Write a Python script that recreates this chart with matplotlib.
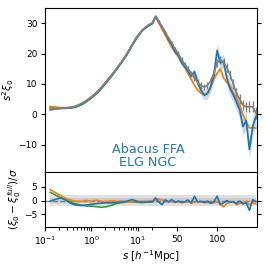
import numpy as np
import matplotlib
matplotlib.use('Agg')
import matplotlib.pyplot as plt

# separation bins: log-spaced at small s, 4 Mpc/h steps above ~20
s_log = [0.13, 0.17, 0.22, 0.28, 0.36, 0.46, 0.6, 0.77, 1.0, 1.3, 1.65, 2.1,
         2.75, 3.5, 4.5, 5.8, 7.5, 9.6, 12.4, 16, 20.5]
s_lin = [24, 28, 32, 36, 40, 44, 48, 52, 56, 60, 64, 68, 72, 76, 80, 84, 88,
         92, 96, 100, 104, 108, 112, 116, 120, 124, 128, 132, 136, 140, 144, 148]
s = s_log + s_lin

# s^2 xi_0
blue = [1.5, 1.8, 2.0, 2.1, 2.2, 2.6, 3.3, 4.3, 5.6, 7.1, 8.8, 10.7, 12.9, 15.0,
        17.3, 19.8, 22.8, 25.5, 27.7, 29.0, 30.0,
        32.3, 30.5, 28.5, 26.8, 24.5, 23.0, 20.5, 19.5, 17.0, 15.8, 14.2, 12.5,
        14.0, 10.5, 8.0, 6.3, 6.8, 9.0, 13.0, 21.0, 17.0, 17.5, 12.0, 8.5, 6.5,
        4.0, 1.5, -4.0, -2.0, -11.5, -4.0, -0.8]
blue_err = [0.1, 0.1, 0.1, 0.1, 0.1, 0.1, 0.1, 0.1, 0.1, 0.1, 0.1, 0.1, 0.1, 0.1,
            0.15, 0.15, 0.2, 0.2, 0.25, 0.3, 0.4,
            0.5, 0.6, 0.7, 0.8, 0.9, 1.0, 1.0, 1.1, 1.1, 1.2, 1.3, 1.3, 1.4, 1.5,
            1.5, 1.6, 1.7, 1.8, 1.9, 2.0, 2.1, 2.2, 2.3, 2.4, 2.5, 2.6, 2.7, 2.8,
            2.9, 3.0, 3.1, 3.2]
orange = [2.6, 2.4, 2.2, 2.2, 2.3, 2.7, 3.5, 4.5, 5.8, 7.3, 9.0, 10.9, 13.1, 15.2,
          17.4, 19.9, 22.8, 25.5, 27.6, 29.0, 30.0,
          32.0, 30.0, 28.0, 26.0, 24.0, 22.0, 20.5, 19.0, 17.2, 15.5, 13.5, 11.5,
          9.5, 8.0, 7.0, 6.5, 7.0, 9.0, 11.5, 13.5, 15.0, 12.0, 10.5, 9.5, 7.0,
          5.5, 3.0, 0.0, -2.5, -4.5, -4.3, -4.5]
green = [2.3, 2.1, 2.0, 2.0, 2.1, 2.4, 3.1, 4.1, 5.4, 6.9, 8.6, 10.5, 12.7, 14.9,
         17.2, 19.7, 22.7, 25.4, 27.6, 29.0, 30.0]
gray = [1.8, 1.9, 2.0, 2.1, 2.3, 2.7, 3.4, 4.4, 5.7, 7.2, 8.9, 10.8, 13.0, 15.1,
        17.4, 19.9, 22.9, 25.6, 27.8, 29.2, 30.2,
        32.0, 30.5, 28.8, 27.0, 25.0, 23.5, 21.5, 20.0, 18.0, 16.5, 15.0, 13.5,
        12.0, 10.5, 9.5, 9.0, 9.5, 11.0, 13.5, 17.0, 18.0, 17.0, 15.5, 13.0, 10.0,
        7.0, 5.0, 3.0, 2.5, 2.5, 2.5, 0.5]
gray_err = [0.05] * 21 + [0.3, 0.4, 0.5, 0.5, 0.6, 0.6, 0.7, 0.7, 0.8, 0.8, 0.9,
                          0.9, 1.0, 1.0, 1.0, 1.1, 1.1, 1.2, 1.2, 1.3, 1.3, 1.4,
                          1.4, 1.5, 1.5, 1.6, 1.6, 1.7, 1.7, 1.8, 1.8, 1.9]

# (xi_0 - xi_0^full) / sigma
blue_d = [-0.2, 0.5, 1.0, 0.2, -1.0, -1.6, -1.8, -1.6, -1.3, -1.1, -0.9, -0.8,
          -0.8, -0.7, -0.5, -0.2, 0.4, -0.3, -0.6, -0.5, -0.4,
          1.0, -0.6, -1.4, 0.3, -0.5, 0.4, -0.6, -0.2, -0.5, -0.4, 0.2, -0.8,
          1.6, -0.4, -0.3, -0.6, -0.2, -0.9, -0.4, 1.6, -1.4, -0.8, 0.0, -0.6,
          -0.4, -1.0, -0.2, -1.2, -0.8, -3.5, 0.3, -0.3]
orange_d = [4.0, 2.8, 1.8, 0.8, 0.2, -0.2, -0.3, 0.1, -0.2, 0.2, -0.3, -0.4, 0.0,
            -0.3, -0.2, -0.5, -0.3, -0.4, -0.3, -0.2, 0.0,
            0.3, 0.6, 0.2, 0.0, -0.4, -0.2, -0.6, -0.3, -0.8, -0.6, -0.4, -0.9,
            -0.6, -0.5, -0.3, -0.8, -0.6, -1.0, -0.8, -0.5, -1.2, -2.3, -1.0,
            -0.6, -0.5, -1.5, -1.0, -0.6, -0.4, -1.6, -0.8, -1.2]
green_d = [3.0, 2.0, 1.0, 0.3, -0.6, -1.2, -1.6, -1.9, -2.0, -2.2, -2.4, -2.2,
           -1.6, -1.0, -0.7, -0.5, -0.4, -0.6, -0.7, -0.5, -0.4]

# log below 25 Mpc/h, linear above (smooth join)
T = 25.0
LT = np.log10(T)
K = T * np.log(10)


def fwd(x):
    x = np.maximum(np.asarray(x, dtype=float), 1e-12)
    return np.where(x < T, np.log10(x), LT + (x - T) / K)


def inv(y):
    y = np.asarray(y, dtype=float)
    with np.errstate(over='ignore'):
        return np.where(y < LT, 10.0 ** np.minimum(y, LT), T + (y - LT) * K)


plt.rcParams['font.size'] = 6.5
plt.rcParams['xtick.major.size'] = 3
plt.rcParams['ytick.major.size'] = 3
plt.rcParams['xtick.minor.size'] = 1.8
plt.rcParams['xtick.major.pad'] = 2.5
plt.rcParams['ytick.major.pad'] = 2.5
fig = plt.figure(figsize=(2.66, 2.66), dpi=100)
gs = fig.add_gridspec(2, 1, height_ratios=[3, 1], hspace=0,
                      left=0.169, right=0.968, top=0.970, bottom=0.147)
ax1 = fig.add_subplot(gs[0])
ax2 = fig.add_subplot(gs[1], sharex=ax1)

blue_arr = np.array(blue)
err_arr = np.array(blue_err)
ax1.errorbar(s, gray, yerr=gray_err, color='gray', lw=1.2, elinewidth=1.0)
ax1.plot(s_log, green, color='tab:green', lw=1.3)
ax1.plot(s, orange, color='tab:orange', lw=1.3)
ax1.fill_between(s, blue_arr - err_arr, blue_arr + err_arr, color='tab:blue',
                 alpha=0.25, lw=0)
ax1.plot(s, blue, color='tab:blue', lw=1.3)
ax1.set_ylim(-19, 35)
ax1.set_yticks([-10, 0, 10, 20, 30])
ax1.set_ylabel(r'$s^2\xi_0$', fontsize=7.5, labelpad=2)
ax1.text(0.485, 0.018, 'Abacus FFA\nELG NGC', transform=ax1.transAxes,
         color='tab:blue', fontsize=9.2, ha='center', va='bottom',
         multialignment='center', linespacing=1.0)
ax1.tick_params(right=True, labelbottom=False)

ax2.fill_between(s, -2, 2, color='lightgray', alpha=0.7, lw=0)
ax2.fill_between(s, -1, 1, color='darkgray', alpha=0.35, lw=0)
ax2.axhline(0, color='gray', ls='--', lw=1.0)
ax2.plot(s_log, green_d, color='tab:green', lw=1.2)
ax2.plot(s, orange_d, color='tab:orange', lw=1.2)
ax2.plot(s, blue_d, color='tab:blue', lw=1.2)
ax2.set_ylim(-9.5, 10.3)
ax2.set_yticks([-5, 0, 5])
ax2.set_ylabel(r'$(\xi_0-\xi_0^{full})/\sigma$', fontsize=7.5, labelpad=1)
ax2.set_xlabel(r'$s$ [$h^{-1}$Mpc]', fontsize=7.5, labelpad=1)
ax2.tick_params(right=True)

ax2.set_xscale('function', functions=(fwd, inv))
ax2.set_xlim(0.1, 150)
ax2.set_xticks([0.1, 1, 10, 50, 100])
ax2.set_xticklabels([r'$10^{-1}$', r'$10^{0}$', r'$10^{1}$', '50', '100'])
ax2.set_xticks([0.2, 0.3, 0.4, 0.5, 0.6, 0.7, 0.8, 0.9,
                2, 3, 4, 5, 6, 7, 8, 9, 20], minor=True)

fig.savefig('out.png', dpi=100)
